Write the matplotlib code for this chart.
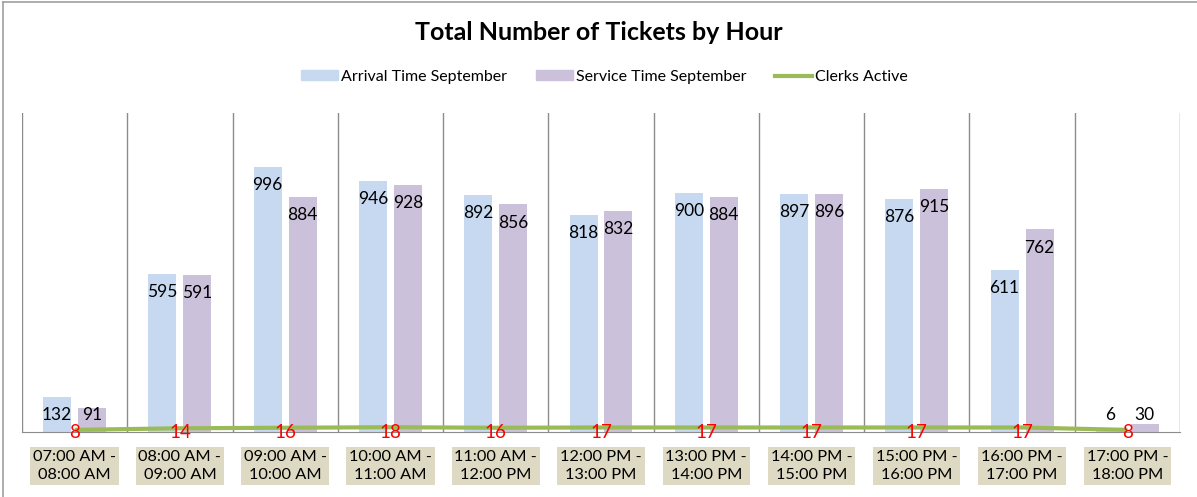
import matplotlib.pyplot as plt
import numpy as np
from matplotlib.patches import Patch
from matplotlib.lines import Line2D

hours = ["07:00 AM -\n08:00 AM", "08:00 AM -\n09:00 AM", "09:00 AM -\n10:00 AM",
         "10:00 AM -\n11:00 AM", "11:00 AM -\n12:00 PM", "12:00 PM -\n13:00 PM",
         "13:00 PM -\n14:00 PM", "14:00 PM -\n15:00 PM", "15:00 PM -\n16:00 PM",
         "16:00 PM -\n17:00 PM", "17:00 PM -\n18:00 PM"]
arrival = [132, 595, 996, 946, 892, 818, 900, 897, 876, 611, 6]
service = [91, 591, 884, 928, 856, 832, 884, 896, 915, 762, 30]
clerks = [8, 14, 16, 18, 16, 17, 17, 17, 17, 17, 8]

C_ARR = "#c6d9f1"
C_SRV = "#ccc1da"
C_LINE = "#9bbb59"
GRID = "#8c8c8c"

plt.rcParams["font.family"] = ["Lato", "DejaVu Sans"]

fig = plt.figure(figsize=(11.97, 4.97), dpi=100)
ax = fig.add_axes([22 / 1197, 1 - 432 / 497, (1180 - 22) / 1197, (432 - 113) / 497])

x = np.arange(len(hours))
w = 0.266
off = 0.166
ax.bar(x - off, arrival, w, color=C_ARR, zorder=2)
ax.bar(x + off, service, w, color=C_SRV, zorder=2)
ax.plot(x, clerks, color=C_LINE, lw=3, zorder=3, solid_capstyle="butt")

# data labels, inside the top of each bar
for xi, v in zip(x, arrival):
    ax.text(xi - off, max(v - 68, 64), str(v), ha="center", va="center", fontsize=12.5, zorder=4)
for xi, v in zip(x, service):
    ax.text(xi + off, max(v - 68, 64), str(v), ha="center", va="center", fontsize=12.5, zorder=4)
for xi, v in zip(x, clerks):
    ax.text(xi, -2, str(v), ha="center", va="center", fontsize=13.5, color="red", zorder=5)

ax.set_xlim(-0.5, len(hours) - 0.5)
ax.set_ylim(0, 1200)
for b in np.arange(-0.5, len(hours), 1.0):
    ax.axvline(b, color=GRID, lw=1, zorder=1)
for s in ["top", "right", "left"]:
    ax.spines[s].set_visible(False)
ax.spines["bottom"].set_color(GRID)
ax.set_yticks([])
ax.set_xticks(x)
ax.set_xticklabels(hours, fontsize=11.8, linespacing=1.35)
ax.tick_params(axis="x", length=0, pad=13)
for t in ax.get_xticklabels():
    t.set_bbox(dict(facecolor="#ddd9c3", edgecolor="none", pad=2))

fig.text(0.5, 1 - 33 / 497, "Total Number of Tickets by Hour", ha="center", va="center",
         fontsize=18, fontweight="bold")

handles = [Patch(color=C_ARR), Patch(color=C_SRV), Line2D([], [], color=C_LINE, lw=3)]
fig.legend(handles, ["Arrival Time September", "Service Time September", "Clerks Active"],
           loc="center", bbox_to_anchor=(0.505, 1 - 77 / 497), ncol=3, frameon=False,
           fontsize=11.5, handlelength=2.3, handleheight=0.6, handletextpad=0.2, columnspacing=1.8)

# outer chart border (left and top edges visible)
fig.add_artist(Line2D([3 / 1197, 3 / 1197], [0, 1 - 2 / 497], transform=fig.transFigure,
                      color="#a0a0a0", lw=1.2))
fig.add_artist(Line2D([3 / 1197, 1], [1 - 2 / 497, 1 - 2 / 497], transform=fig.transFigure,
                      color="#a0a0a0", lw=1.2))

fig.savefig("out.png", dpi=100)
